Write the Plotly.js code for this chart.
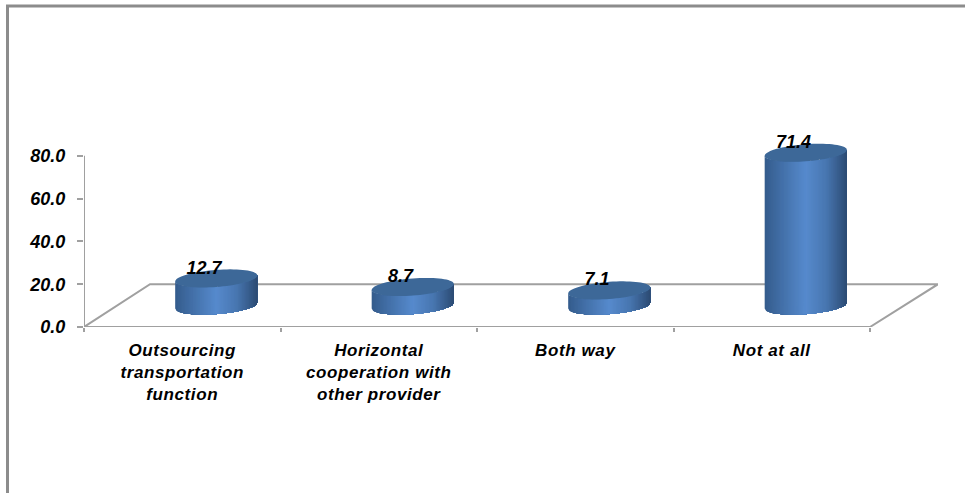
<!DOCTYPE html>
<html>
<head>
<meta charset="utf-8">
<script src="https://cdn.plot.ly/plotly-3.0.1.min.js"></script>
<style>
html,body{margin:0;padding:0;background:#fff}
#chart{width:965px;height:493px}
/* Slightly open tracking on the category labels */
#chart .xtick text{letter-spacing:.6px}
</style>
</head>
<body>
<div id="chart"></div>
<script>
// Chart data
const categories = ['Outsourcing<br>transportation<br>function', 'Horizontal<br>cooperation with<br>other provider', 'Both way', 'Not at all'];
const shares = [12.7, 8.7, 7.1, 71.4];
const shareTicks = [0, 20, 40, 60, 80];

// Pseudo-3D floor and cylinder proportions, in axis units
const floorDepthX = 0.346;   // sideways run of the floor
const floorBackLeft = 0.336; // left corner of the floor's back edge, from the axis
const floorDepthY = 20;      // rise of the floor
const radiusX = 0.209;
const ellipseA = 4.0;        // vertical half-height of an end cap
const ellipseB = 1.4;        // tilt of an end cap, right side higher
const bandCount = 60;

const W = 965, H = 493;
const margin = {l: 84, r: 27, t: 113, b: 166, pad: 0};
const yMax = 100;
const xMin = -0.5, xMax = categories.length - 0.5;
const labelFont = {family: '"Liberation Sans", Arial, sans-serif', size: 17, color: '#000'};
const numberFont = {family: '"Liberation Sans", Arial, sans-serif', size: 18, color: '#000'};
const axisGrey = '#a0a0a0';

// Shading across a cylinder, from -1 (left edge) to 1 (right edge)
const shadeStops = [[-1, [52, 92, 140]], [-0.55, [68, 113, 170]], [0, [86, 138, 205]], [0.5, [72, 118, 176]], [0.85, [52, 88, 134]], [1, [44, 74, 114]]];
function shade(u) {
  for (let i = 1; i < shadeStops.length; i++) {
    if (u <= shadeStops[i][0]) {
      const [a, ca] = shadeStops[i - 1], [b, cb] = shadeStops[i];
      const f = (u - a) / (b - a);
      const c = ca.map((v, k) => Math.round(v + (cb[k] - v) * f));
      return `rgb(${c.join(',')})`;
    }
  }
  return 'rgb(44,74,114)';
}

const frontY = (base, u) => base - ellipseA * Math.sqrt(Math.max(0, 1 - u * u)) + ellipseB * u;

const traces = [];

// Floor outline and value axis line
const floorX = [xMin, xMin + floorBackLeft, xMax + floorDepthX, xMax, xMin];
const floorY = [0, floorDepthY, floorDepthY, 0, 0];
traces.push({x: floorX, y: floorY, mode: 'lines', line: {color: axisGrey, width: 2}, hoverinfo: 'skip', showlegend: false});
traces.push({x: [xMin, xMin], y: [shareTicks[0], shareTicks[shareTicks.length - 1]], mode: 'lines', line: {color: axisGrey, width: 2}, hoverinfo: 'skip', showlegend: false});

// Cylinder walls: one trace per shading band, each painted from its left
// boundary out to the right edge so that the next band overlaps it without seams
const baseY = floorDepthY / 2;
for (let b = 0; b < bandCount; b++) {
  const u0 = -1 + 2 * b / bandCount;
  const steps = Math.max(2, bandCount - b);
  const us = Array.from({length: steps + 1}, (_, k) => u0 + (1 - u0) * k / steps);
  const xs = [], ys = [];
  shares.forEach((v, i) => {
    const cx = i + floorDepthX / 2;
    us.forEach(u => { xs.push(cx + radiusX * u); ys.push(frontY(baseY + v, u)); });
    us.slice().reverse().forEach(u => { xs.push(cx + radiusX * u); ys.push(frontY(baseY, u)); });
    xs.push(cx + radiusX * u0, null); ys.push(frontY(baseY + v, u0), null);
  });
  traces.push({x: xs, y: ys, mode: 'none', fill: 'toself', fillcolor: shade(u0 + 1 / bandCount), hoverinfo: 'skip', showlegend: false});
}

// Cylinder end caps
const capX = [], capY = [];
shares.forEach((v, i) => {
  const cx = i + floorDepthX / 2, cy = baseY + v;
  for (let k = 0; k <= 72; k++) {
    const t = 2 * Math.PI * k / 72;
    capX.push(cx + radiusX * Math.cos(t));
    capY.push(cy + ellipseA * Math.sin(t) + ellipseB * Math.cos(t));
  }
  capX.push(null); capY.push(null);
});
traces.push({x: capX, y: capY, mode: 'none', fill: 'toself', fillcolor: '#3d6898', hoverinfo: 'skip', showlegend: false});

// Value labels above the caps
traces.push({
  x: shares.map((v, i) => i + floorDepthX / 2 - 0.062),
  y: shares.map(v => baseY + v + 4.4),
  text: shares.map(v => v.toFixed(1)),
  mode: 'text', textposition: 'middle center',
  textfont: numberFont, texttemplate: '<b><i>%{text}</i></b>',
  hoverinfo: 'skip', showlegend: false
});

// Outer frame along the top and left edges, given in page pixels
const plotW = W - margin.l - margin.r, plotH = H - margin.t - margin.b;
const paperX = px => (px - margin.l) / plotW;
const paperY = py => (H - margin.b - py) / plotH;
const frameStyle = {color: '#8c8c8c', width: 3};

const layout = {
  width: W, height: H, margin: margin,
  paper_bgcolor: '#fff', plot_bgcolor: 'rgba(0,0,0,0)',
  showlegend: false,
  xaxis: {
    type: 'linear', range: [xMin, xMax + floorDepthX], fixedrange: true,
    showgrid: false, zeroline: false, showline: false,
    tickmode: 'array', tickvals: categories.map((c, i) => i),
    ticktext: categories.map(c => '<b><i>' + c.replace(/<br>/g, '</i></b><br><b><i>') + '</i></b>'),
    ticks: '', ticklabelstandoff: 11, tickfont: labelFont,
    minor: {ticks: 'outside', tickmode: 'linear', tick0: -0.5, dtick: 1, ticklen: 4, tickwidth: 2, tickcolor: axisGrey, showgrid: false}
  },
  yaxis: {
    type: 'linear', range: [0, yMax], fixedrange: true,
    showgrid: false, zeroline: false, showline: false,
    tickmode: 'array', tickvals: shareTicks,
    ticktext: shareTicks.map(t => '<b><i>' + t.toFixed(1) + '</i></b>'),
    ticks: 'outside', ticklen: 6, tickwidth: 2, tickcolor: axisGrey,
    ticklabelstandoff: 8, tickfont: numberFont
  },
  shapes: [
    {type: 'line', xref: 'paper', yref: 'paper', x0: paperX(7.5), x1: paperX(7.5), y0: paperY(5), y1: paperY(H), line: frameStyle},
    {type: 'line', xref: 'paper', yref: 'paper', x0: paperX(6), x1: paperX(W), y0: paperY(6), y1: paperY(6), line: frameStyle}
  ]
};

Plotly.newPlot('chart', traces, layout, {displayModeBar: false, staticPlot: true});
</script>
</body>
</html>
